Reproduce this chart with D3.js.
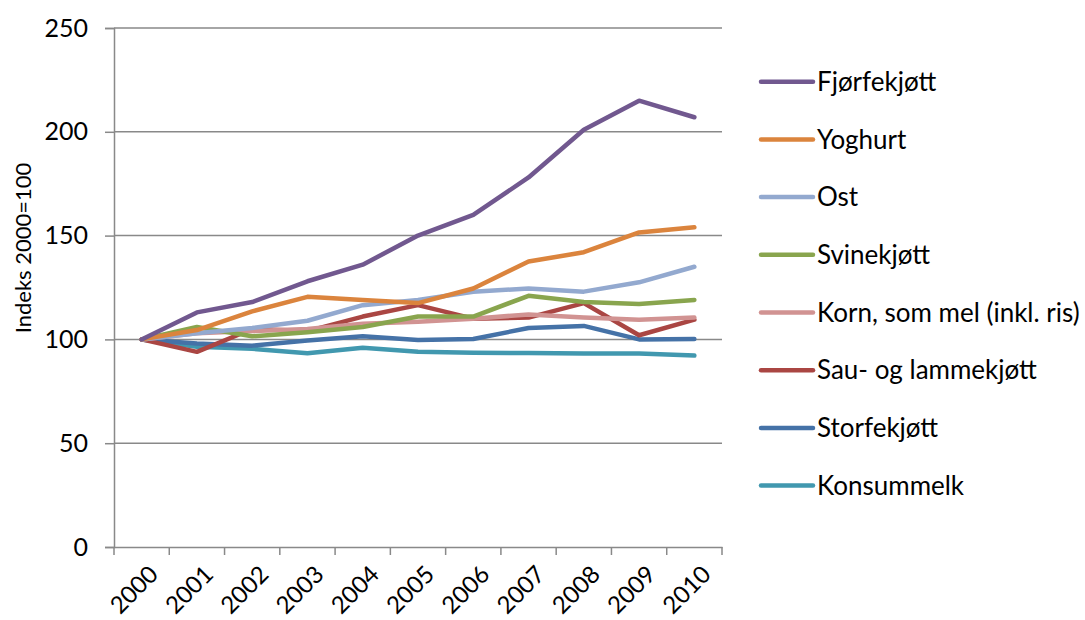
<!DOCTYPE html>
<html>
<head>
<meta charset="utf-8">
<script src="https://cdn.jsdelivr.net/npm/d3@7"></script>
<style>
  body { margin: 0; background: #fff; }
  text { font-family: Lato, "Open Sans", sans-serif; fill: #000; }
</style>
</head>
<body>
<div id="chart"></div>
<script>
var years = ["2000","2001","2002","2003","2004","2005","2006","2007","2008","2009","2010"];
var yTicks = [0, 50, 100, 150, 200, 250];

var seriesNames = ["Fjørfekjøtt","Yoghurt","Ost","Svinekjøtt","Korn, som mel (inkl. ris)","Sau- og lammekjøtt","Storfekjøtt","Konsummelk"];

var fjorfe   = [100, 113, 118, 128, 136, 150, 160, 178, 201, 215, 207];
var yoghurt  = [100, 104.5, 113.5, 120.5, 119, 117.5, 124.5, 137.5, 142, 151.5, 154];
var ost      = [100, 103, 105.5, 109, 116.5, 119, 123, 124.5, 123, 127.5, 135];
var svin     = [100, 106, 101.5, 103.5, 106, 111, 111, 121, 118, 117, 119];
var korn     = [100, 103, 104, 105, 107.5, 108.5, 110, 112, 110.5, 109.5, 110.5];
var sau      = [100, 94, 105, 104, 111, 116.5, 110, 110.5, 117.5, 102, 109.5];
var storfe   = [100, 98, 97, 99.5, 101.5, 99.7, 100.2, 105.5, 106.5, 100, 100.2];
var melk     = [100, 96.5, 95.5, 93.3, 96, 94, 93.6, 93.4, 93.2, 93.2, 92.2];

var seriesValues = [fjorfe, yoghurt, ost, svin, korn, sau, storfe, melk];
var seriesColors = ["#71588F","#DB843D","#93A9CF","#89A54E","#D19392","#AA4643","#4572A7","#4198AF"];

var width = 1085, height = 620;
var plotLeft = 114, plotRight = 722, plotTop = 28, plotBottom = 547;

var svg = d3.select("#chart").append("svg")
  .attr("width", width)
  .attr("height", height);

var x = d3.scaleBand().domain(years).range([plotLeft, plotRight]);
var y = d3.scaleLinear().domain([0, 250]).range([plotBottom, plotTop]);

// gridlines
svg.append("g")
  .selectAll("line")
  .data(yTicks.filter(function(d){ return d > 0; }))
  .enter().append("line")
    .attr("x1", plotLeft).attr("x2", plotRight)
    .attr("y1", function(d){ return y(d); })
    .attr("y2", function(d){ return y(d); })
    .attr("stroke", "#898989")
    .attr("stroke-width", 1.5);

// y axis
var yAxis = svg.append("g")
  .attr("transform", "translate(" + plotLeft + ",0)")
  .call(d3.axisLeft(y).tickValues(yTicks).tickSize(9).tickPadding(17));
yAxis.select(".domain").attr("stroke", "#898989").attr("stroke-width", 1.5);
yAxis.selectAll(".tick line").attr("stroke", "#898989").attr("stroke-width", 1.5);
yAxis.selectAll(".tick text")
  .style("font-family", "Lato, sans-serif")
  .style("font-size", "25px")
  .attr("fill", "#000");

// x axis
var xAxis = svg.append("g")
  .attr("transform", "translate(0," + plotBottom + ")")
  .call(d3.axisBottom(x).tickSize(0).tickFormat(""));
xAxis.select(".domain").attr("stroke", "#898989").attr("stroke-width", 1.5);

// x ticks on band edges
svg.append("g")
  .selectAll("line")
  .data(years.concat(["end"]))
  .enter().append("line")
    .attr("x1", function(d, i){ return plotLeft + i * x.step(); })
    .attr("x2", function(d, i){ return plotLeft + i * x.step(); })
    .attr("y1", plotBottom)
    .attr("y2", plotBottom + 8)
    .attr("stroke", "#898989")
    .attr("stroke-width", 1.5);

// rotated year labels
svg.append("g")
  .selectAll("text")
  .data(years)
  .enter().append("text")
    .attr("transform", function(d){
      return "translate(" + (x(d) + x.bandwidth() / 2 + 6) + "," + (plotBottom + 17) + ") rotate(-45)";
    })
    .attr("text-anchor", "end")
    .attr("dy", "0.7em")
    .style("font-size", "24px")
    .text(function(d){ return d; });

// y label
svg.append("text")
  .attr("transform", "translate(31,248) rotate(-90)")
  .attr("text-anchor", "middle")
  .style("font-size", "22px")
  .text("Indeks 2000=100");

// lines
var line = d3.line()
  .x(function(d, i){ return x(years[i]) + x.bandwidth() / 2; })
  .y(function(d){ return y(d); });

// draw from last series up so the first series is on top
for (var s = seriesValues.length - 1; s >= 0; s--) {
  svg.append("path")
    .datum(seriesValues[s])
    .attr("fill", "none")
    .attr("stroke", seriesColors[s])
    .attr("stroke-width", 4.5)
    .attr("stroke-linejoin", "round")
    .attr("stroke-linecap", "round")
    .attr("d", line);
}

// legend
var legend = svg.selectAll(".legend")
  .data(seriesNames)
  .enter().append("g")
    .attr("class", "legend")
    .attr("transform", function(d, i){ return "translate(0," + (81.7 + i * 57.7) + ")"; });

legend.append("line")
  .attr("x1", 761).attr("x2", 813)
  .attr("y1", 0).attr("y2", 0)
  .attr("stroke", function(d, i){ return seriesColors[i]; })
  .attr("stroke-width", 4.5)
  .attr("stroke-linecap", "round");

legend.append("text")
  .attr("x", 817)
  .attr("y", 0)
  .attr("dy", "0.35em")
  .style("font-size", "26px")
  .text(function(d){ return d; });
</script>
</body>
</html>
